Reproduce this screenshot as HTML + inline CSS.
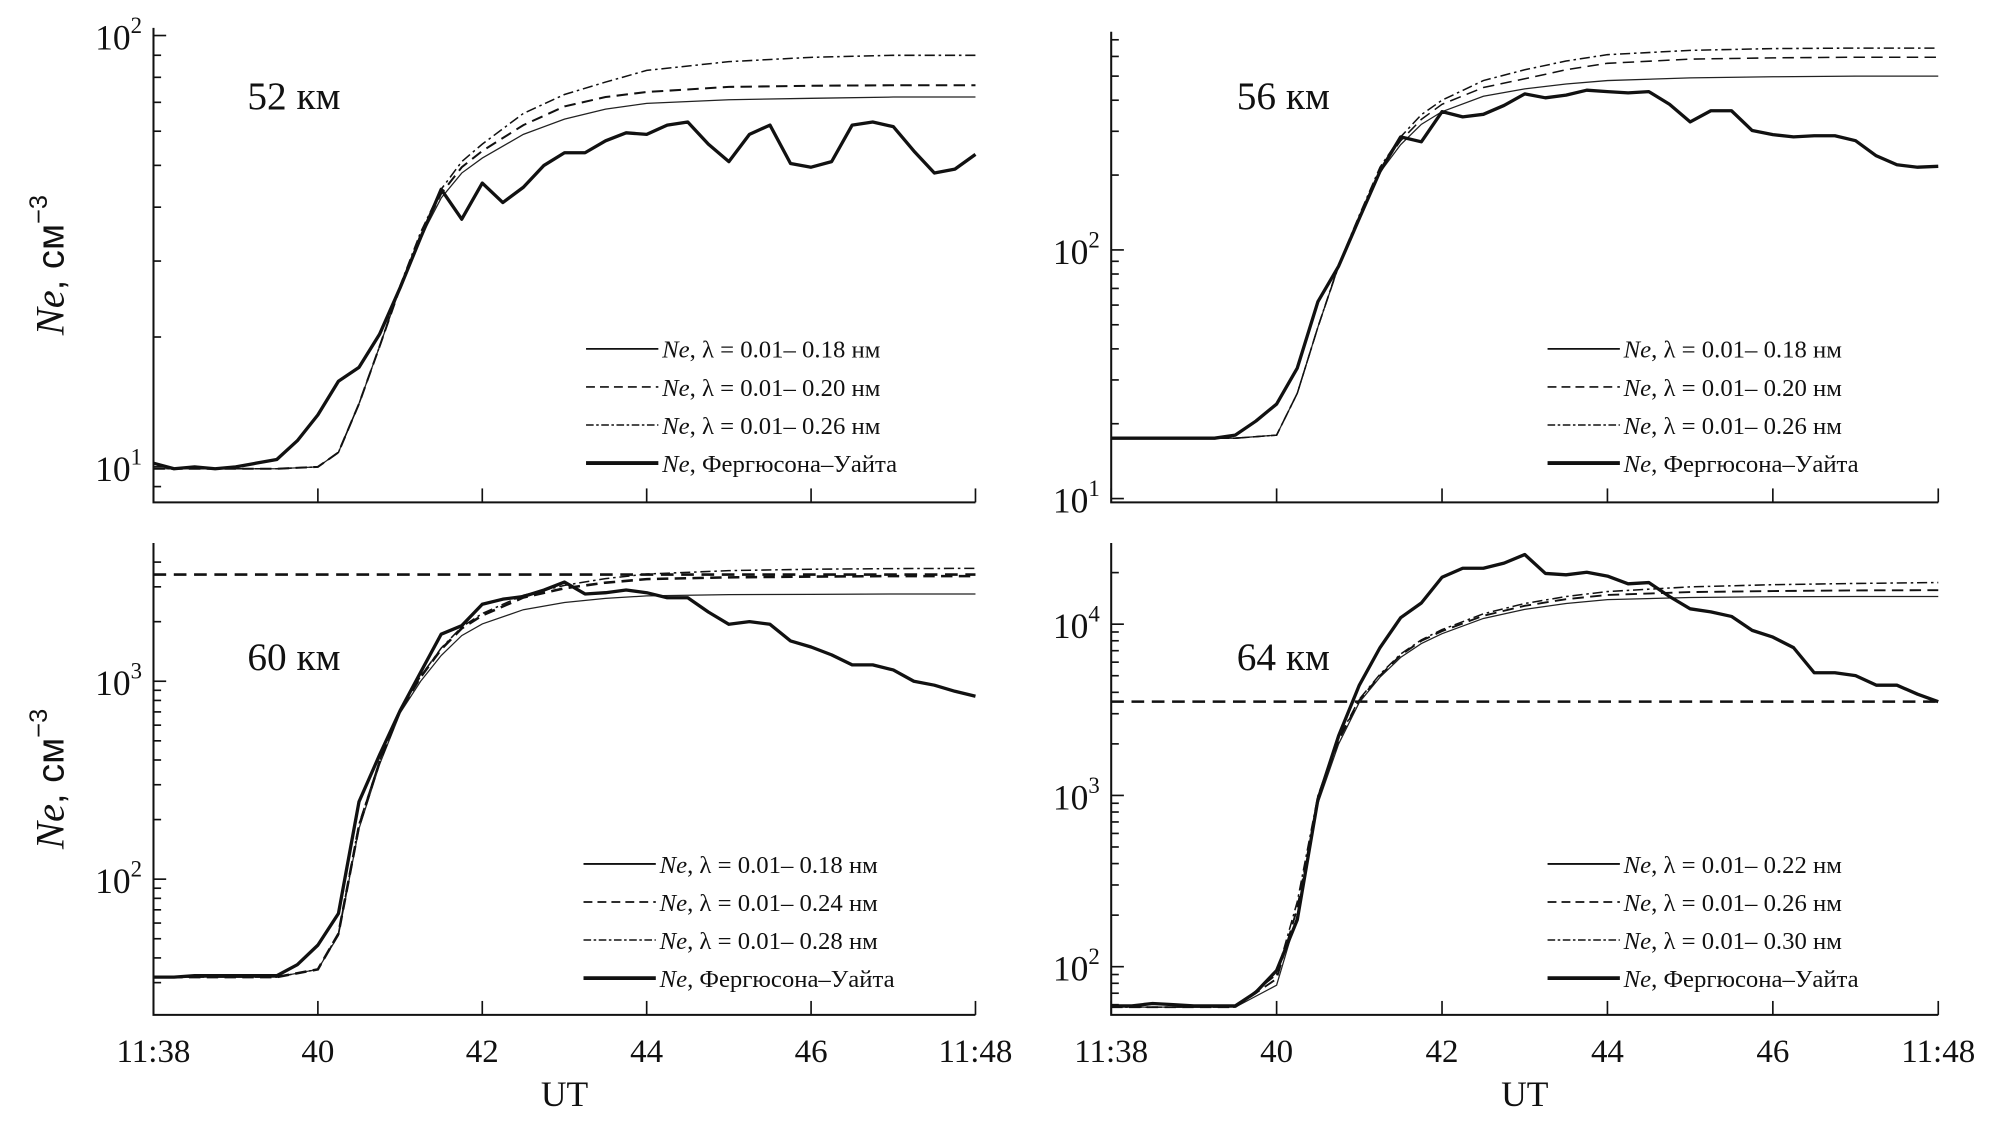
<!DOCTYPE html>
<html><head><meta charset="utf-8"><style>
html,body{margin:0;padding:0;background:#fff;}
svg{display:block;font-family:"Liberation Serif",serif;}
</style></head><body>
<svg id="chart" width="1989" height="1124" viewBox="0 0 1568 886" preserveAspectRatio="none" xmlns="http://www.w3.org/2000/svg">
<rect width="1568" height="886" fill="#fff"/>
</svg>
<script>
// ---- data ----
const modelTimes = [38,39,39.5,40,40.25,40.5,40.75,41,41.25,41.5,41.75,42,42.5,43,43.5,44,45,46,47,48];
const fwTimes = [38,38.25,38.5,38.75,39,39.25,39.5,39.75,40,40.25,40.5,40.75,41,41.25,41.5,41.75,42,42.25,42.5,42.75,43,43.25,43.5,43.75,44,44.25,44.5,44.75,45,45.25,45.5,45.75,46,46.25,46.5,46.75,47,47.25,47.5,47.75,48];
const xTickValues = [38,40,42,44,46,48];
const xTickLabels = ["11:38","40","42","44","46","11:48"];

// 52 km
const p52Solid = [9.9,9.9,9.9,10,10.8,14,19,26,34,42,48,52,59,64,67.5,69.6,71,71.5,72,72];
const p52Dashed = [9.9,9.9,9.9,10,10.8,14,19,26,34.5,43,49.5,54,62,68.5,72,74,76,76.5,76.7,76.7];
const p52DashDot = [9.9,9.9,9.9,10,10.8,14,19,26.3,35,44,51,56,66,73,78,83,87,89,90,90];
const p52FW = [10.2,9.9,10,9.9,10,10.2,10.4,11.5,13.2,15.8,17,20.3,26,34,44,37.5,45.5,41,44.5,50,53.5,53.5,57,59.5,59,62,63,56,51,59,62,50.5,49.5,51,62,63,61.5,54,48,49,53];
// 56 km
const p56Solid = [17.5,17.5,17.5,18,26.5,49,86,134,205,265,320,360,415,444,465,480,492,497,500,500];
const p56Dashed = [17.5,17.5,17.5,18,26.5,49,86,136,210,275,335,385,450,488,530,563,585,592,596,596];
const p56DashDot = [17.5,17.5,17.5,18,26.5,49,87,138,215,285,350,400,480,530,575,610,635,645,648,648];
const p56FW = [17.5,17.5,17.5,17.5,17.5,17.5,18,20.5,24,33.5,62,86,134,207,285,272,360,343,351,381,424,409,419,439,433,428,433,385,327,363,363,302,291,285,288,288,275,239,220,215,217];
// 60 km
const p60Solid = [32,32,32,35,52,180,380,690,1000,1350,1700,1950,2300,2500,2620,2700,2740,2750,2760,2760];
const p60Dashed = [32,32,32,35,53,185,390,710,1050,1450,1850,2150,2650,2950,3150,3280,3350,3380,3400,3400];
const p60DashDot = [32,32,32,35,53,190,395,720,1060,1470,1880,2200,2720,3050,3300,3480,3620,3680,3710,3720];
const p60FW = [32,32,32.5,32.5,32.5,32.5,32.5,37,46.4,67,246,424,710,1110,1730,1910,2450,2600,2680,2890,3170,2760,2800,2890,2800,2640,2640,2240,1940,2000,1940,1600,1490,1360,1210,1210,1140,1000,955,890,840];
const p60RefLine = [3460];
// 64 km
const p64Solid = [58,58,58,78,200,900,2000,3500,4900,6400,7700,8800,10800,12200,13200,13900,14300,14450,14500,14500];
const p64Dashed = [58,58,58,85,220,950,2100,3600,5000,6600,8000,9100,11200,12800,14000,14800,15400,15600,15750,15800];
const p64DashDot = [58,58,58,90,240,1000,2150,3650,5100,6700,8100,9300,11500,13200,14500,15500,16500,17000,17300,17500];
const p64FW = [59,59,61,60,59,59,59,71,95,188,950,2230,4400,7300,10900,13300,18800,21200,21200,22700,25500,19800,19400,20100,19100,17200,17500,14500,12300,11800,11100,9200,8400,7300,5200,5200,5000,4400,4400,3900,3530];
const p64RefLine = [3530];

const legend1 = ["0.01– 0.18 нм","0.01– 0.20 нм","0.01– 0.26 нм"];
const legend3 = ["0.01– 0.18 нм","0.01– 0.24 нм","0.01– 0.28 нм"];
const legend4 = ["0.01– 0.22 нм","0.01– 0.26 нм","0.01– 0.30 нм"];

// ---- drawing ----
const NS="http://www.w3.org/2000/svg";
const svg=document.getElementById('chart');
function mk(tag,attrs,parent){const e=document.createElementNS(NS,tag);for(const k in attrs)e.setAttribute(k,attrs[k]);(parent||svg).appendChild(e);return e;}

const panels=[
 {id:'52',x0:121,x1:769,top:22,bot:396,yRef:368,logRef:1,dec:340,maj:[1,2],solid:p52Solid,dashed:p52Dashed,dd:p52DashDot,fw:p52FW,ref:null,dashW:1.6,title:"52 км",tx:195,ty:86,leg:legend1,lx:462,ly:275,ylabel:true,xlabels:false},
 {id:'56',x0:876,x1:1528,top:25,bot:396,yRef:197,logRef:2,dec:196,maj:[1,2],solid:p56Solid,dashed:p56Dashed,dd:p56DashDot,fw:p56FW,ref:null,dashW:1.2,title:"56 км",tx:975,ty:86,leg:legend1,lx:1220,ly:275,ylabel:false,xlabels:false},
 {id:'60',x0:121,x1:769,top:428,bot:800,yRef:693,logRef:2,dec:156,maj:[2,3],solid:p60Solid,dashed:p60Dashed,dd:p60DashDot,fw:p60FW,ref:p60RefLine,dashW:2,title:"60 км",tx:195,ty:528,leg:legend3,lx:460,ly:681,ylabel:true,xlabels:true},
 {id:'64',x0:876,x1:1528,top:428,bot:800,yRef:762,logRef:2,dec:135,maj:[2,3,4],solid:p64Solid,dashed:p64Dashed,dd:p64DashDot,fw:p64FW,ref:p64RefLine,dashW:1.5,title:"64 км",tx:975,ty:528,leg:legend4,lx:1220,ly:681,ylabel:false,xlabels:true}
];

panels.forEach(p=>{
 const g=mk('g',{});
 
 
 const xs=t=>p.x0+(t-38)/(48-38)*(p.x1-p.x0);
 const ys=v=>p.yRef-p.dec*(Math.log10(v)-p.logRef);
 const ax=mk('path',{d:`M${p.x0},${p.top}V${p.bot}H${p.x1}`,fill:'none',stroke:'#111','stroke-width':1.6},g);
 
 
 const vMin=Math.pow(10,p.logRef+(p.yRef-p.bot)/p.dec), vMax=Math.pow(10,p.logRef+(p.yRef-p.top)/p.dec);
 for(let e=Math.floor(Math.log10(vMin));e<=Math.ceil(Math.log10(vMax));e++){
  for(let k=1;k<10;k++){
   const v=k*Math.pow(10,e); if(v<vMin||v>vMax)continue;
   const y=ys(v);
   const tk=mk('line',{x1:p.x0,x2:p.x0+(k===1?10:6),y1:y,y2:y,stroke:'#111','stroke-width':1.3},g);
   
   
   if(k===1&&p.maj.includes(e)){
    const tl=mk('text',{x:p.x0-9,y:y+11,'text-anchor':'end','font-size':28,fill:'#111'},g);
    
    
    tl.textContent='10';
    const sp=mk('tspan',{dy:-13,'font-size':18},tl);sp.textContent=String(e);
   }
  }
 }
 xTickValues.forEach((t,i)=>{
  const x=xs(t);
  const tk=mk('line',{x1:x,x2:x,y1:p.bot,y2:p.bot-11,stroke:'#111','stroke-width':1.3},g);
  
  
  if(p.xlabels){
   const tl=mk('text',{x:x,y:p.bot+37,'text-anchor':'middle','font-size':26,fill:'#111'},g);
   
   
   tl.textContent=xTickLabels[i];
  }
 });
 if(p.xlabels){
  const ut=mk('text',{x:(p.x0+p.x1)/2,y:872,'text-anchor':'middle','font-size':28,fill:'#111'},g);
  
  
  ut.textContent='UT';
 }
 if(p.ylabel){
  const cy=(p.top+p.bot)/2;
  const yl=mk('text',{x:0,y:0,transform:`translate(50,${cy}) rotate(-90)`,'text-anchor':'middle','font-size':30,fill:'#111','font-family':'Liberation Sans, sans-serif'},g);
  
  
  const a=mk('tspan',{'font-style':'italic','font-family':'Liberation Serif, serif','font-size':32},yl);a.textContent='Ne';
  const b=mk('tspan',{},yl);b.textContent=', см';
  const c=mk('tspan',{dy:-13,'font-size':20},yl);c.textContent='−3';
 }
 const tt=mk('text',{x:p.tx,y:p.ty,'font-size':31,fill:'#111'},g);
 
 
 tt.textContent=p.title;
 const path=(times,vals)=>times.map((t,i)=>(i?'L':'M')+xs(t).toFixed(1)+','+ys(vals[i]).toFixed(1)).join('');
 if(p.ref){
  const r=mk('line',{x1:p.x0,x2:p.x1,y1:ys(p.ref[0]),y2:ys(p.ref[0]),stroke:'#111','stroke-width':2,'stroke-dasharray':'10,6'},g);
  
  
 }
 const s1=mk('path',{d:path(modelTimes,p.solid),fill:'none',stroke:'#222','stroke-width':1},g);
 
 
 const s2=mk('path',{d:path(modelTimes,p.dashed),fill:'none',stroke:'#111','stroke-width':p.dashW,'stroke-dasharray':'9,5'},g);
 
 
 const s3=mk('path',{d:path(modelTimes,p.dd),fill:'none',stroke:'#111','stroke-width':1.2,'stroke-dasharray':'8,3,2,3'},g);
 
 
 const s4=mk('path',{d:path(fwTimes,p.fw),fill:'none',stroke:'#111','stroke-width':2.6,'stroke-linejoin':'round'},g);
 
 
 const styles=[{w:1.4,d:''},{w:1.3,d:'7,4'},{w:1.2,d:'6,2,2,2'},{w:3,d:''}];
 for(let i=0;i<4;i++){
  const y=p.ly+i*30;
  const le=mk('g',{},g);
  
  
  const ln=mk('line',{x1:p.lx,x2:p.lx+57,y1:y,y2:y,stroke:'#111','stroke-width':styles[i].w},le);
  if(styles[i].d)ln.setAttribute('stroke-dasharray',styles[i].d);
  const tx=mk('text',{x:p.lx+60,y:y+7,'font-size':19.5,fill:'#111'},le);
  const a=mk('tspan',{'font-style':'italic'},tx);a.textContent='Ne';
  const b=mk('tspan',{},tx);
  b.textContent= i<3 ? ', λ = '+p.leg[i] : ', Фергюсона–Уайта';
 }
});
</script>
</body></html>
